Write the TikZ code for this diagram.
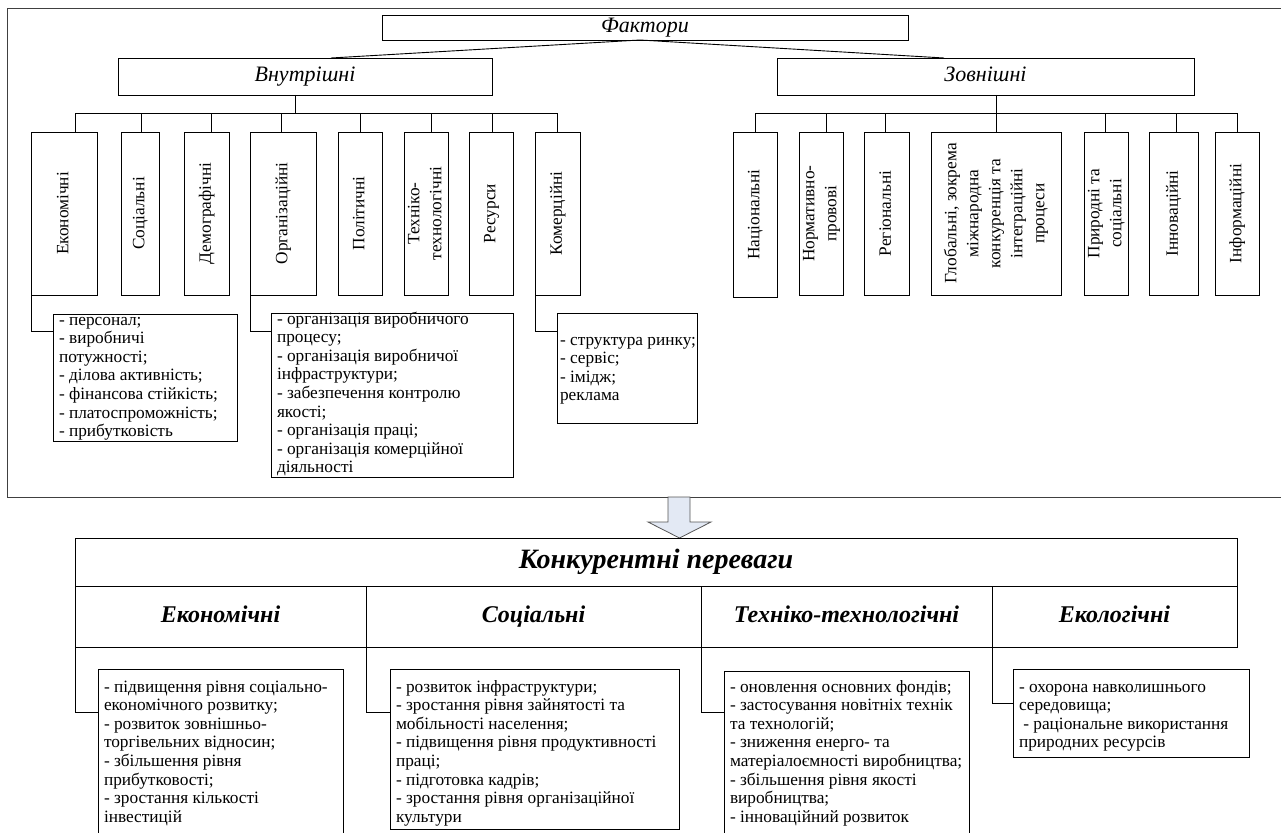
\documentclass[tikz,border=0pt]{standalone}
\usepackage{fontspec}
\setmainfont{Liberation Serif}
\definecolor{arrowfill}{HTML}{E3E9F4}
\definecolor{arrowline}{HTML}{555555}
\definecolor{framec}{HTML}{404040}
\newcommand\mylines[1]{\begin{tabular}[t]{@{}l@{}}#1\end{tabular}}
\newcommand\vlines[1]{\rotatebox{90}{\begin{tabular}{@{}c@{}}#1\end{tabular}}}
\begin{document}
\begin{tikzpicture}[x=1pt,y=-1pt,
  line width=0.9pt,
  bx/.style={draw, inner sep=0pt, outer sep=0pt, anchor=north west},
  vbx/.style={bx, font=\fontsize{17.3}{22}\selectfont},
  lst/.style={inner sep=0pt, outer sep=0pt, anchor=base west, font=\fontsize{17.3}{18.6}\selectfont},
  ttl/.style={bx, font=\fontsize{22}{24}\selectfont\itshape, text height=15pt, text depth=5pt},
  hdr/.style={bx, font=\fontsize{24}{26}\selectfont\bfseries\itshape, text height=16pt, text depth=5pt},
  big/.style={bx, font=\fontsize{28}{30}\selectfont\bfseries\itshape, text height=19pt, text depth=6pt},
]
\useasboundingbox (0,0) rectangle (1281,832);
% outer frame
\node[bx, draw=framec, minimum width=1290, minimum height=489] (frame) at (7,8) {};
% top level
\node[ttl, minimum width=526, minimum height=25] (fak) at (382,15) {Фактори};
\node[ttl, minimum width=374, minimum height=37] (vn) at (118,58) {Внутрішні};
\node[ttl, minimum width=417, minimum height=37] (zn) at (777,58) {Зовнішні};
\draw ([xshift=-5pt]fak.south) -- ([xshift=26pt]vn.north);
\draw ([xshift=-5pt]fak.south) -- ([xshift=-41.5pt]zn.north);
% internal factors
\node[vbx, minimum width=66, minimum height=163] (e1) at (31,132) {\vlines{Економічні}};
\node[vbx, minimum width=38, minimum height=163] (s1) at (121,132) {\vlines{Соціальні}};
\node[vbx, minimum width=45, minimum height=163] (d1) at (184,132) {\vlines{Демографічні}};
\node[vbx, minimum width=66, minimum height=163] (o1) at (250,132) {\vlines{Організаційні}};
\node[vbx, minimum width=44, minimum height=163] (p1) at (338,132) {\vlines{Політичні}};
\node[vbx, minimum width=44, minimum height=163] (t1) at (404,132) {\vlines{Техніко-\\технологічні}};
\node[vbx, minimum width=44, minimum height=163] (r1) at (469,132) {\vlines{Ресурси}};
\node[vbx, minimum width=45, minimum height=163] (k1) at (535,132) {\vlines{Комерційні}};
\draw ([xshift=-10pt]vn.south) -- ++(0,18);
\draw ([xshift=11pt,yshift=19pt]e1.north) -- ([yshift=19pt]k1.north);
\foreach \n/\s in {e1/11,s1/1,d1/5,o1/-2,p1/0,t1/5,r1/1,k1/0}{
  \draw ([xshift=\s pt]\n.north) -- ++(0,-19);
}
% external factors
\node[vbx, minimum width=44, minimum height=165] (n2) at (733,132) {\vlines{Національні}};
\node[vbx, minimum width=44, minimum height=163] (np2) at (799,132) {\vlines{Нормативно-\\провові}};
\node[vbx, minimum width=45, minimum height=163] (rg2) at (864,132) {\vlines{Регіональні}};
\node[vbx, minimum width=130, minimum height=163] (g2) at (931,132) {\vlines{Глобальні, зокрема\\міжнародна\\конкуренція та\\інтеграційні\\процеси}};
\node[vbx, minimum width=44, minimum height=163] (pr2) at (1084,132) {\vlines{Природні та\\соціальні}};
\node[vbx, minimum width=49, minimum height=163] (in2) at (1149,132) {\vlines{Інноваційні}};
\node[vbx, minimum width=44, minimum height=163] (if2) at (1215,132) {\vlines{Інформаційні}};
\draw ([xshift=10.5pt]zn.south) -- ++(0,18);
\draw ([yshift=19pt]n2.north) -- ([yshift=19pt]if2.north);
\foreach \n/\s in {n2/0,np2/5,rg2/-1,g2/0,pr2/-1,in2/2.5,if2/0}{
  \draw ([xshift=\s pt]\n.north) -- ++(0,-19);
}
% lists
\node[bx, minimum width=184, minimum height=127] (el) at (53,314) {};
\node[lst] (elt) at ([xshift=6pt,yshift=-11pt]el.north west) {\mylines{- персонал;\\- виробничі\\потужності;\\- ділова активність;\\- фінансова стійкість;\\- платоспроможність;\\- прибутковість}};
\draw (e1.south west) |- ([yshift=-17pt]el.north west);
\node[bx, minimum width=242, minimum height=164] (ol) at (271,313) {};
\node[lst] (olt) at ([xshift=6pt,yshift=-11pt]ol.north west) {\mylines{- організація виробничого\\процесу;\\- організація виробничої\\інфраструктури;\\- забезпечення контролю\\якості;\\- організація праці;\\- організація комерційної\\діяльності}};
\draw (o1.south west) |- ([yshift=-18pt]ol.north west);
\node[bx, minimum width=140, minimum height=110] (kl) at (557,313) {};
\node[lst] (klt) at ([xshift=3pt,yshift=-32pt]kl.north west) {\mylines{- структура ринку;\\- сервіс;\\- імідж;\\реклама}};
\draw (k1.south west) |- ([yshift=-18pt]kl.north west);
% arrow
\path[draw=arrowline, fill=arrowfill, line width=0.8pt] (668,497) -- (690,497) -- (690,522) -- (711,522) -- (679.5,538) -- (648,522) -- (668,522) -- cycle;
% competitive advantages
\node[big, minimum width=1162, minimum height=48] (kp) at (75,538) {Конкурентні переваги};
\node[hdr, minimum width=291, minimum height=61] (h1) at (75,586) {Економічні};
\node[hdr, minimum width=335, minimum height=61] (h2) at (366,586) {Соціальні};
\node[hdr, minimum width=291, minimum height=61] (h3) at (701,586) {Техніко-технологічні};
\node[hdr, minimum width=245, minimum height=61] (h4) at (992,586) {Екологічні};
% bottom lists
\node[bx, minimum width=245, minimum height=175] (b1) at (98,669) {};
\node[lst] (b1t) at ([xshift=6pt,yshift=-23pt]b1.north west) {\mylines{- підвищення рівня соціально-\\економічного розвитку;\\- розвиток зовнішньо-\\торгівельних відносин;\\- збільшення рівня\\прибутковості;\\- зростання кількості\\інвестицій}};
\draw (h1.south west) |- ([yshift=-43pt]b1.north west);
\node[bx, minimum width=289, minimum height=160] (b2) at (390,669) {};
\node[lst] (b2t) at ([xshift=6pt,yshift=-23pt]b2.north west) {\mylines{- розвиток інфраструктури;\\- зростання рівня зайнятості та\\мобільності населення;\\- підвищення рівня продуктивності\\праці;\\- підготовка кадрів;\\- зростання рівня організаційної\\культури}};
\draw (h2.south west) |- ([yshift=-43pt]b2.north west);
\node[bx, minimum width=245, minimum height=175] (b3) at (724,671) {};
\node[lst] (b3t) at ([xshift=6pt,yshift=-21pt]b3.north west) {\mylines{- оновлення основних фондів;\\- застосування новітніх технік\\та технологій;\\- зниження енерго- та\\матеріалоємності виробництва;\\- збільшення рівня якості\\виробництва;\\- інноваційний розвиток}};
\draw (h3.south west) |- ([yshift=-41pt]b3.north west);
\node[bx, minimum width=236, minimum height=88] (b4) at (1013,669) {};
\node[lst] (b4t) at ([xshift=6pt,yshift=-23pt]b4.north west) {\mylines{- охорона навколишнього\\середовища;\\\ - раціональне використання\\природних ресурсів}};
\draw (h4.south west) |- ([yshift=-34pt]b4.north west);
\end{tikzpicture}
\end{document}
